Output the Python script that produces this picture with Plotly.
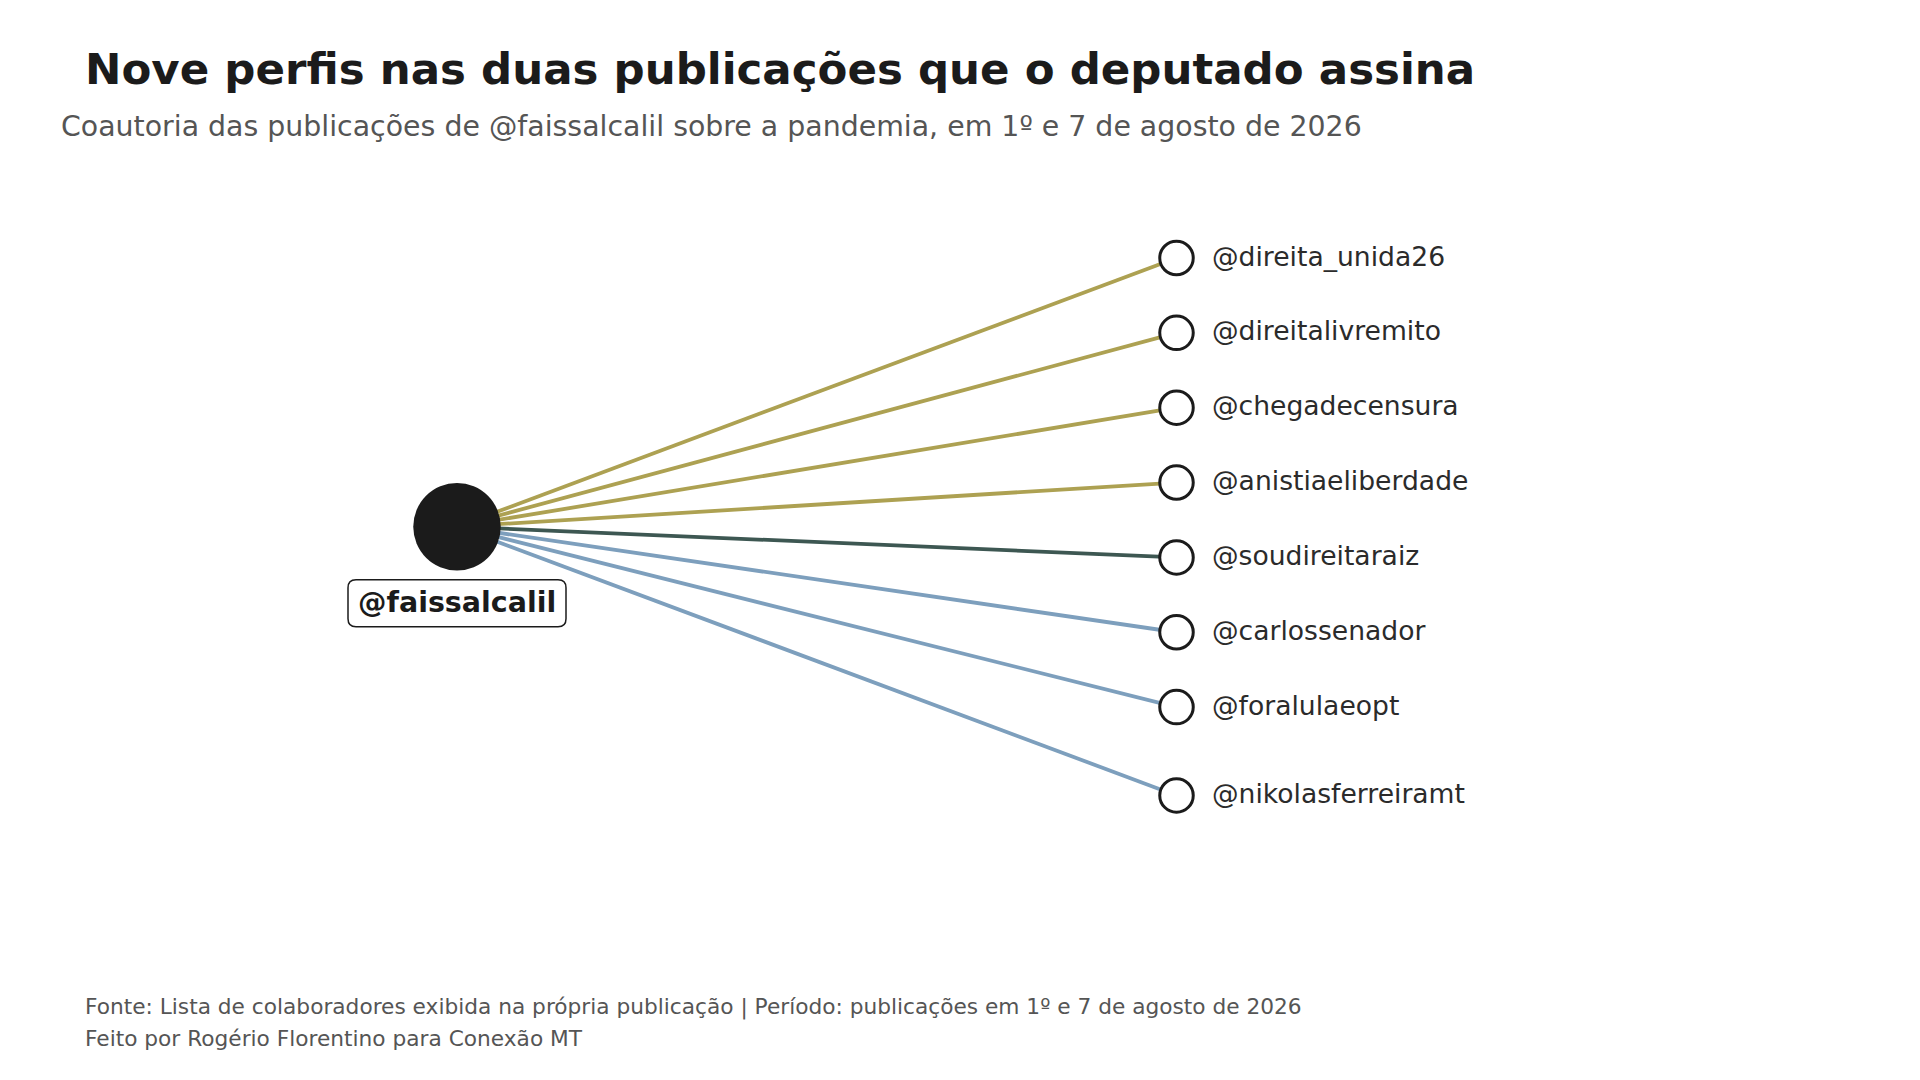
import plotly.graph_objects as go

# perfis coautores, na ordem em que aparecem de cima para baixo
deputado = "@faissalcalil"
perfis = [
    "@direita_unida26",
    "@direitalivremito",
    "@chegadecensura",
    "@anistiaeliberdade",
    "@soudireitaraiz",
    "@carlossenador",
    "@foralulaeopt",
    "@nikolasferreiramt",
]
grupo = ["pub_1", "pub_1", "pub_1", "pub_1", "ambas", "pub_2", "pub_2", "pub_2"]
ordem = [0, 1, 2, 3, 4, 5, 6, 7.18]

titulo = "Nove perfis nas duas publicações que o deputado assina"
subtitulo = "Coautoria das publicações de @faissalcalil sobre a pandemia, em 1º e 7 de agosto de 2026"
rodape = [
    "Fonte: Lista de colaboradores exibida na própria publicação | Período: publicações em 1º e 7 de agosto de 2026",
    "Feito por Rogério Florentino para Conexão MT",
]

cores = {"pub_1": "#ada152", "ambas": "#3d5752", "pub_2": "#7d9fbd"}
FONTE = "DejaVu Sans"
W, H = 1920, 1080
y_centro = (min(ordem) + max(ordem)) / 2

# escala: px por unidade e posição (px) da origem na área do gráfico
PX_X, X0_PX = 719.5, 449
PX_Y, Y0_PX = 74.85, 250

fig = go.Figure()

for nome, g, y in zip(perfis, grupo, ordem):
    fig.add_trace(go.Scatter(
        x=[0, 1], y=[y_centro, y], mode="lines",
        line=dict(color=cores[g], width=3.8), hoverinfo="skip"))

fig.add_trace(go.Scatter(
    x=[1] * len(perfis), y=ordem, mode="markers", text=perfis,
    marker=dict(size=33.5, color="white", line=dict(color="#1b1b1b", width=3))))

fig.add_trace(go.Scatter(
    x=[0], y=[y_centro], mode="markers", text=[deputado],
    marker=dict(size=87.5, color="#1b1b1b", line=dict(width=0))))

anots = []
for nome, y in zip(perfis, ordem):
    anots.append(dict(
        x=1, y=y, xref="x", yref="y", text=nome, showarrow=False,
        xanchor="left", yanchor="middle", xshift=33, yshift=2,
        font=dict(family=FONTE, size=26.6, color="#2b2b2b")))

anots.append(dict(
    x=0, y=y_centro, xref="x", yref="y", text="<b>" + deputado + "</b>",
    showarrow=False, xanchor="center", yanchor="middle", yshift=-76,
    font=dict(family=FONTE, size=28.5, color="#1b1b1b")))

anots.append(dict(
    x=75 / W, y=1 - 61 / H, xref="paper", yref="paper", text="<b>" + titulo + "</b>",
    showarrow=False, xanchor="left", yanchor="middle",
    font=dict(family=FONTE, size=43.5, color="#1b1b1b")))
anots.append(dict(
    x=51 / W, y=1 - 119 / H, xref="paper", yref="paper", text=subtitulo,
    showarrow=False, xanchor="left", yanchor="middle",
    font=dict(family=FONTE, size=28.4, color="#555555")))
for linha, ypx in zip(rodape, [999, 1030]):
    anots.append(dict(
        x=75 / W, y=1 - ypx / H, xref="paper", yref="paper", text=linha,
        showarrow=False, xanchor="left", yanchor="middle",
        font=dict(family=FONTE, size=21.7, color="#555555")))

# caixa arredondada do rótulo central, em pixels a partir do nó
x0, x1, y0, y1, r = -109, 109, -100, -53, 8
caminho = (f"M {x0 + r},{y0} L {x1 - r},{y0} Q {x1},{y0} {x1},{y0 + r} "
           f"L {x1},{y1 - r} Q {x1},{y1} {x1 - r},{y1} L {x0 + r},{y1} "
           f"Q {x0},{y1} {x0},{y1 - r} L {x0},{y0 + r} Q {x0},{y0} {x0 + r},{y0} Z")

fig.update_layout(
    width=W, height=H,
    margin=dict(l=0, r=0, t=0, b=0),
    paper_bgcolor="white", plot_bgcolor="white",
    showlegend=False,
    annotations=anots,
    shapes=[dict(type="path", xref="x", yref="y", xsizemode="pixel", ysizemode="pixel",
                 xanchor=0, yanchor=y_centro, path=caminho,
                 line=dict(color="#1b1b1b", width=1.5), fillcolor="white", layer="below")],
    xaxis=dict(visible=False, range=[-X0_PX / PX_X, (W - X0_PX) / PX_X]),
    yaxis=dict(visible=False, range=[(H - Y0_PX) / PX_Y, -Y0_PX / PX_Y]),
)

fig.write_html("out.html")
